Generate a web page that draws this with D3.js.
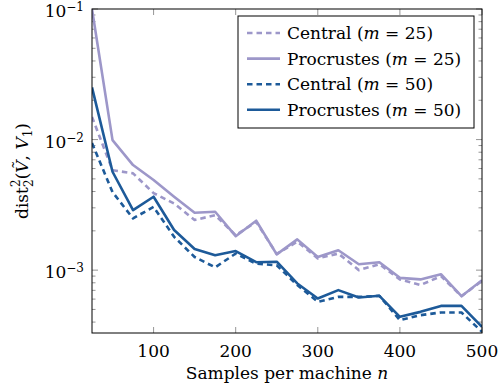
<!DOCTYPE html>
<html>
<head>
<meta charset="utf-8">
<script src="https://cdn.jsdelivr.net/npm/d3@7"></script>
<style>
  body { margin: 0; background: #fff; }
  text, tspan { font-family: "DejaVu Serif", "Liberation Serif", "Noto Serif", Times, serif; }
</style>
</head>
<body>
<div id="chart"></div>
<script>
// samples per machine
const samples = [25, 50, 75, 100, 125, 150, 175, 200, 225, 250, 275, 300, 325, 350, 375, 400, 425, 450, 475, 500];

// dist_2^2 values
const central25 = [0.0149, 0.00583, 0.00551, 0.00389, 0.00324, 0.00242, 0.00264, 0.00185, 0.00234, 0.00133,
  0.00165, 0.00123, 0.00134, 0.00100, 0.00111, 0.000849, 0.000768, 0.000899, 0.000632, 0.000827];
const procrustes25 = [0.100, 0.00991, 0.00638, 0.00490, 0.00365, 0.00275, 0.00280, 0.00182, 0.00239, 0.00132,
  0.00172, 0.00126, 0.00142, 0.00111, 0.00115, 0.000873, 0.000849, 0.000931, 0.000632, 0.000837];
const central50 = [0.00940, 0.00396, 0.00249, 0.00305, 0.00180, 0.00126, 0.00105, 0.00134, 0.00112, 0.00109,
  0.000768, 0.000572, 0.000624, 0.000624, 0.000636, 0.000414, 0.000452, 0.000474, 0.000474, 0.000337];
const procrustes50 = [0.0251, 0.00567, 0.00288, 0.00365, 0.00203, 0.00145, 0.00130, 0.00140, 0.00115, 0.00116,
  0.000791, 0.000607, 0.000703, 0.000618, 0.000636, 0.000439, 0.000479, 0.000532, 0.000532, 0.000368];

const xTicks = [100, 200, 300, 400, 500];
const yTicks = [1e-3, 1e-2, 1e-1];

const LIGHT = "#9d97c9";
const DARK = "#1d5a99";

const series = [
  { label: "Central", m: 25, values: central25, color: LIGHT, dashed: true },
  { label: "Procrustes", m: 25, values: procrustes25, color: LIGHT, dashed: false },
  { label: "Central", m: 50, values: central50, color: DARK, dashed: true },
  { label: "Procrustes", m: 50, values: procrustes50, color: DARK, dashed: false },
];

const width = 500, height = 384;
const margin = { top: 9, right: 18, bottom: 51, left: 92 };
const plotW = width - margin.left - margin.right;
const plotH = height - margin.top - margin.bottom;

const svg = d3.select("#chart").append("svg")
  .attr("width", width)
  .attr("height", height);

const g = svg.append("g")
  .attr("transform", "translate(" + margin.left + "," + margin.top + ")");

const x = d3.scaleLinear().domain([25, 500]).range([0, plotW]);
const y = d3.scaleLog().domain([3.3e-4, 0.1]).range([plotH, 0]);

// clip lines to the axis box
g.append("clipPath").attr("id", "clip")
  .append("rect").attr("width", plotW).attr("height", plotH);

// minor ticks on the log axis (both sides, pointing inward)
const minor = [];
[1e-4, 1e-3, 1e-2].forEach(function (d) {
  for (let k = 2; k <= 9; k++) {
    const v = d * k;
    if (v >= y.domain()[0] && v <= y.domain()[1]) minor.push(v);
  }
});
const tickColor = "#8a8a8a";
function tick(x1, y1, x2, y2) {
  g.append("line").attr("x1", x1).attr("y1", y1).attr("x2", x2).attr("y2", y2)
    .attr("stroke", tickColor).attr("stroke-width", 0.9);
}
minor.forEach(function (v) {
  tick(0, y(v), 3.5, y(v));
  tick(plotW, y(v), plotW - 3.5, y(v));
});
yTicks.forEach(function (v) {
  tick(0, y(v), 6, y(v));
  tick(plotW, y(v), plotW - 6, y(v));
});
xTicks.forEach(function (v) {
  tick(x(v), plotH, x(v), plotH - 6);
  tick(x(v), 0, x(v), 6);
});

// series lines
const line = d3.line()
  .x(function (d) { return x(d[0]); })
  .y(function (d) { return y(d[1]); });

series.forEach(function (s) {
  g.append("path")
    .datum(samples.map(function (n, i) { return [n, s.values[i]]; }))
    .attr("clip-path", "url(#clip)")
    .attr("fill", "none")
    .attr("stroke", s.color)
    .attr("stroke-width", 2.6)
    .attr("stroke-linejoin", "round")
    .attr("stroke-dasharray", s.dashed ? "5.5,4" : null)
    .attr("d", line);
});

// axis frame
g.append("rect").attr("width", plotW).attr("height", plotH)
  .attr("fill", "none").attr("stroke", "#000").attr("stroke-width", 1);

// x tick labels
g.selectAll(".xlabel").data(xTicks).enter().append("text")
  .attr("class", "xlabel")
  .attr("x", function (d) { return x(d); })
  .attr("y", plotH + 24)
  .attr("text-anchor", "middle")
  .style("font-size", "17px")
  .text(function (d) { return d; });

// y tick labels as 10^k
yTicks.forEach(function (v) {
  const t = g.append("text")
    .attr("x", -8)
    .attr("y", y(v) + 8)
    .attr("text-anchor", "end")
    .style("font-size", "17px");
  t.append("tspan").text("10");
  t.append("tspan").attr("dy", -6).style("font-size", "12px")
    .text("\u2212" + Math.round(-Math.log10(v)));
});

// x axis label
svg.append("text")
  .attr("x", margin.left + plotW / 2)
  .attr("y", 379)
  .attr("text-anchor", "middle")
  .style("font-size", "17px")
  .call(function (t) {
    t.append("tspan").text("Samples per machine ");
    t.append("tspan").style("font-style", "italic").text("n");
  });

// y axis label
const ylab = svg.append("text")
  .attr("transform", "translate(28," + (margin.top + plotH / 2) + ") rotate(-90)")
  .attr("text-anchor", "middle")
  .style("font-size", "17px");
ylab.append("tspan").text("dist");
ylab.append("tspan").attr("dy", -8).style("font-size", "12px").text("2");
ylab.append("tspan").attr("dx", -7.5).attr("dy", 13).style("font-size", "12px").text("2");
ylab.append("tspan").attr("dy", -5).text("(");
ylab.append("tspan").style("font-style", "italic").text("V\u0303");
ylab.append("tspan").text(", ");
ylab.append("tspan").style("font-style", "italic").text("V");
ylab.append("tspan").attr("dy", 4).style("font-size", "12px").text("1");
ylab.append("tspan").attr("dy", -4).text(")");

// legend
const legend = svg.append("g").attr("transform", "translate(238,16)");
legend.append("rect").attr("width", 236).attr("height", 112)
  .attr("fill", "#fff").attr("stroke", "#000").attr("stroke-width", 1);

series.forEach(function (s, i) {
  const ly = 17 + i * 25.6;
  legend.append("line")
    .attr("x1", 9).attr("x2", 42).attr("y1", ly).attr("y2", ly)
    .attr("stroke", s.color).attr("stroke-width", 2.6)
    .attr("stroke-dasharray", s.dashed ? "5.5,4" : null);
  const t = legend.append("text")
    .attr("x", 49).attr("y", ly + 6)
    .style("font-size", "17px");
  t.append("tspan").text(s.label + " (");
  t.append("tspan").style("font-style", "italic").text("m");
  t.append("tspan").text(" = " + s.m + ")");
});
</script>
</body>
</html>
